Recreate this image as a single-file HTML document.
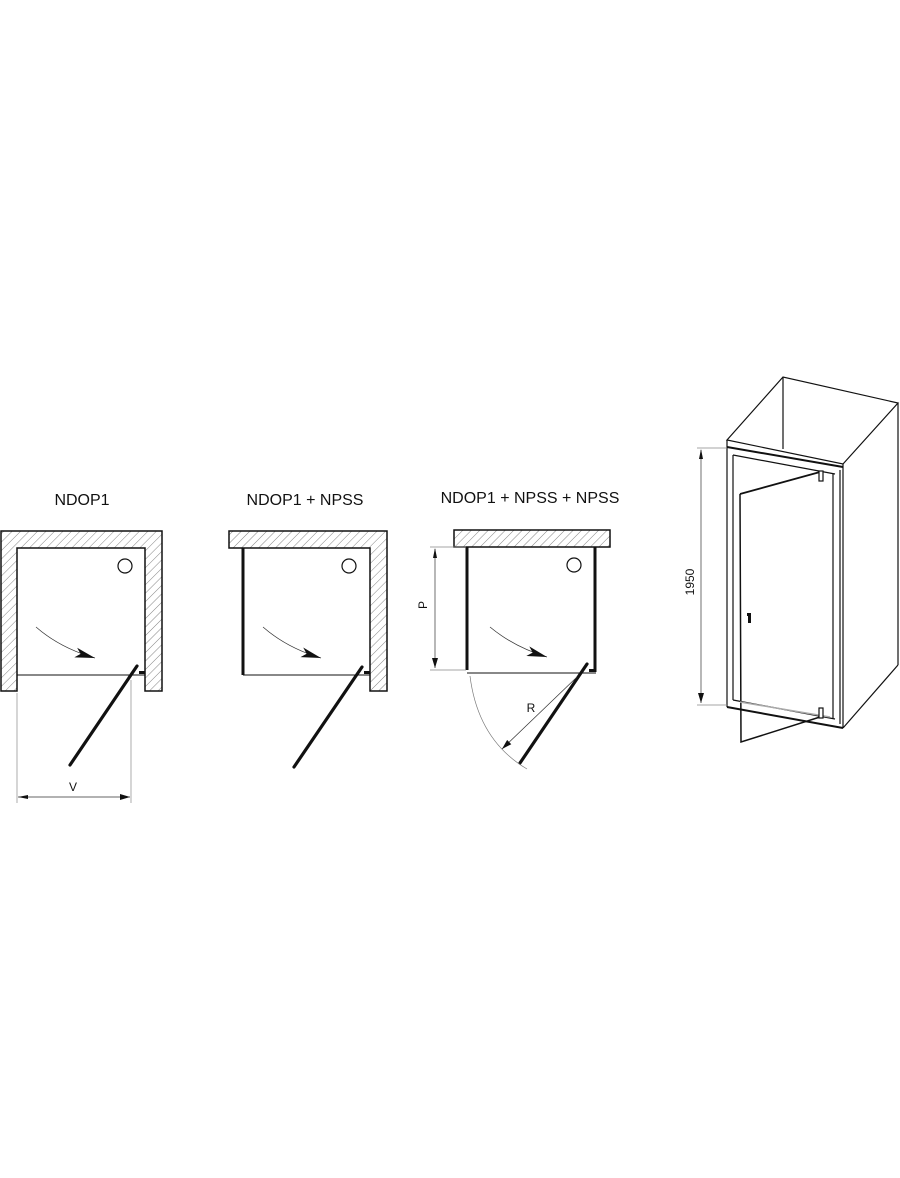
<!DOCTYPE html>
<html><head><meta charset="utf-8"><style>
html,body{margin:0;padding:0;background:#fff}
svg{display:block}
text{font-family:"Liberation Sans",Arial,sans-serif;fill:#111}
</style></head><body>
<svg width="900" height="1178" viewBox="0 0 900 1178" xmlns="http://www.w3.org/2000/svg">
<defs>
<pattern id="h" patternUnits="userSpaceOnUse" width="6" height="6" patternTransform="rotate(45)">
<rect width="6" height="6" fill="#fff"/><line x1="0" y1="0" x2="0" y2="6" stroke="#777" stroke-width="0.9"/>
</pattern>
<marker id="ar" markerWidth="10" markerHeight="6" refX="10" refY="3" orient="auto" markerUnits="userSpaceOnUse"><path d="M0,0 L10,3 L0,6 Z" fill="#111"/></marker>
<marker id="ab" markerWidth="20" markerHeight="10" refX="20" refY="5" orient="auto" markerUnits="userSpaceOnUse"><path d="M0,0 L20,5 L0,10 L5,5 Z" fill="#111"/></marker>
</defs>

<!-- Titles -->
<text x="82" y="505" font-size="16" text-anchor="middle">NDOP1</text>
<text x="305" y="505" font-size="16" text-anchor="middle">NDOP1 + NPSS</text>
<text x="530" y="503" font-size="16" text-anchor="middle">NDOP1 + NPSS + NPSS</text>

<!-- Diagram 1 -->
<path d="M1,531 H162 V691 H145 V548 H17 V691 H1 Z" fill="url(#h)" stroke="#111" stroke-width="1.5"/>
<line x1="17" y1="675" x2="145" y2="675" stroke="#111" stroke-width="1"/>
<circle cx="125" cy="566" r="7" fill="none" stroke="#111" stroke-width="1.2"/>
<path d="M36,627 Q60,648 95,658" fill="none" stroke="#333" stroke-width="0.7" marker-end="url(#ab)"/>
<line x1="137" y1="666" x2="70" y2="765" stroke="#111" stroke-width="3.2" stroke-linecap="round"/>
<rect x="139" y="671" width="6" height="3" fill="#111"/>
<line x1="17" y1="693" x2="17" y2="803" stroke="#888" stroke-width="0.7"/>
<line x1="131" y1="680" x2="131" y2="803" stroke="#888" stroke-width="0.7"/>
<line x1="18" y1="797" x2="130" y2="797" stroke="#333" stroke-width="0.7" marker-end="url(#ar)"/>
<path d="M18,797 L28,795 L28,799 Z" fill="#111"/>
<text x="73" y="791" font-size="12" text-anchor="middle">V</text>

<!-- Diagram 2 -->
<path d="M229,531 H387 V691 H370 V548 H229 Z" fill="url(#h)" stroke="#111" stroke-width="1.5"/>
<line x1="243" y1="548" x2="243" y2="675" stroke="#111" stroke-width="3"/>
<line x1="243" y1="675" x2="370" y2="675" stroke="#111" stroke-width="1"/>
<circle cx="349" cy="566" r="7" fill="none" stroke="#111" stroke-width="1.2"/>
<path d="M263,627 Q287,648 321,658" fill="none" stroke="#333" stroke-width="0.7" marker-end="url(#ab)"/>
<line x1="362" y1="667" x2="294" y2="767" stroke="#111" stroke-width="3.2" stroke-linecap="round"/>
<rect x="364" y="671" width="6" height="3" fill="#111"/>

<!-- Diagram 3 -->
<rect x="454" y="530" width="156" height="17" fill="url(#h)" stroke="#111" stroke-width="1.5"/>
<line x1="467" y1="547" x2="467" y2="670" stroke="#111" stroke-width="3"/>
<line x1="595" y1="547" x2="595" y2="672" stroke="#111" stroke-width="3"/>
<line x1="467" y1="673" x2="596" y2="673" stroke="#111" stroke-width="1"/>
<circle cx="574" cy="565" r="7" fill="none" stroke="#111" stroke-width="1.2"/>
<path d="M490,627 Q514,647 547,657" fill="none" stroke="#333" stroke-width="0.7" marker-end="url(#ab)"/>
<line x1="587" y1="664" x2="520" y2="763" stroke="#111" stroke-width="3.2" stroke-linecap="round"/>
<rect x="589" y="669" width="6" height="3" fill="#111"/>
<line x1="430" y1="547" x2="466" y2="547" stroke="#888" stroke-width="0.7"/>
<line x1="430" y1="670" x2="466" y2="670" stroke="#888" stroke-width="0.7"/>
<line x1="435" y1="549" x2="435" y2="668" stroke="#333" stroke-width="0.7" marker-end="url(#ar)"/>
<path d="M435,548 L433,558 L437,558 Z" fill="#111"/>
<text x="0" y="0" font-size="12" text-anchor="middle" transform="translate(427,605) rotate(-90)">P</text>
<path d="M470,676 Q478,740 527,769" fill="none" stroke="#777" stroke-width="0.7"/>
<line x1="577" y1="677" x2="502" y2="749" stroke="#333" stroke-width="0.7" marker-end="url(#ar)"/>
<text x="531" y="712" font-size="12" text-anchor="middle">R</text>

<!-- 3D view -->
<g fill="none" stroke="#111" stroke-width="1.2">
<path d="M727,440 L783,377 L898,403 L843,464 Z"/>
<line x1="783" y1="377" x2="783" y2="449"/>
<line x1="898" y1="403" x2="898" y2="665"/>
<line x1="898" y1="665" x2="843" y2="728"/>
<line x1="843" y1="464" x2="843" y2="728"/>
<line x1="727" y1="440" x2="727" y2="707"/>
<line x1="733" y1="455" x2="733" y2="700"/>
<path d="M727,447 L843,467" stroke-width="2"/>
<path d="M733,455 L835,474"/>
<line x1="833" y1="474" x2="833" y2="718"/>
<line x1="840" y1="470" x2="840" y2="724"/>
<path d="M727,707 L843,728" stroke-width="2"/>
<path d="M733,700 L835,719"/>
<path d="M740,494 L820,472" stroke-width="1.8"/>
<path d="M740,494 L741,742 L820,717" stroke-width="1.5"/>
</g>
<line x1="740" y1="702" x2="830" y2="717" stroke="#aaa" stroke-width="1.5"/>
<rect x="819" y="471" width="4" height="10" fill="#fff" stroke="#111" stroke-width="1.2"/>
<rect x="819" y="708" width="4" height="10" fill="#fff" stroke="#111" stroke-width="1.2"/>
<path d="M747,613 h4 v10 h-3 v-7 h-1 z" fill="#111"/>
<line x1="697" y1="448" x2="727" y2="448" stroke="#888" stroke-width="0.7"/>
<line x1="697" y1="705" x2="727" y2="705" stroke="#888" stroke-width="0.7"/>
<line x1="701" y1="450" x2="701" y2="703" stroke="#333" stroke-width="0.7" marker-end="url(#ar)"/>
<path d="M701,449 L699,459 L703,459 Z" fill="#111"/>
<text x="0" y="0" font-size="12" text-anchor="middle" transform="translate(694,582) rotate(-90)">1950</text>
</svg>
</body></html>
